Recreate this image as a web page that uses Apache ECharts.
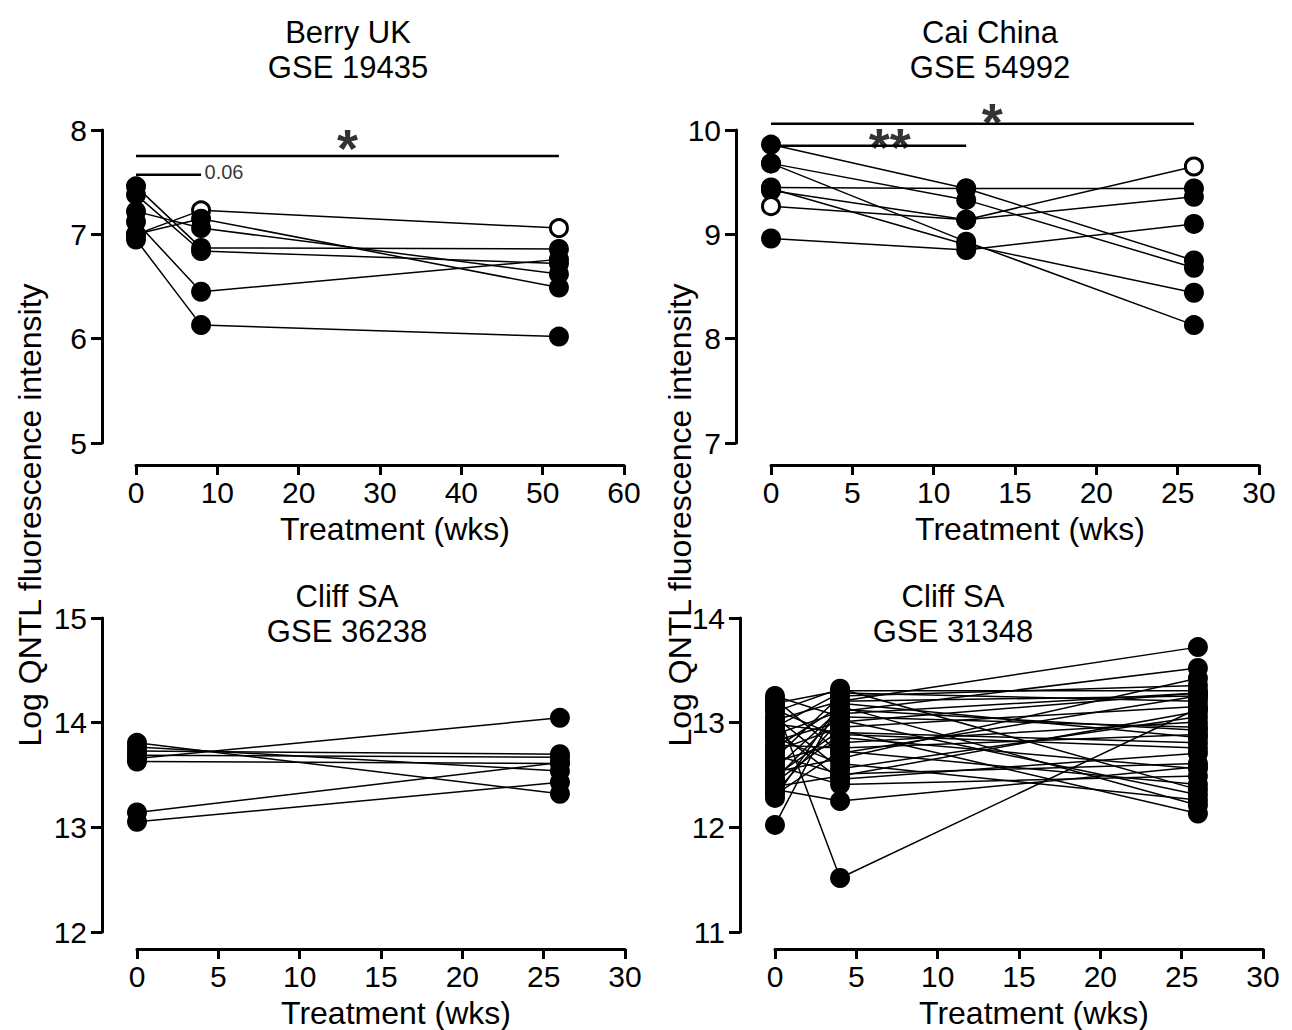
<!DOCTYPE html>
<html><head><meta charset="utf-8">
<script src="https://cdn.jsdelivr.net/npm/echarts@6/dist/echarts.min.js"></script>
<style>html,body{margin:0;padding:0;background:#fff}#c{width:1292px;height:1030px}</style>
</head><body><div id="c"></div>
<script>
// ---------------- data ----------------
const panelTitles = ['Berry UK\nGSE 19435', 'Cai China\nGSE 54992', 'Cliff SA\nGSE 36238', 'Cliff SA\nGSE 31348'];
const xAxisName = 'Treatment (wks)';
const yAxisName = 'Log QNTL fluorescence intensity';

// x ranges: [min, max, interval]
const xRanges = [[0, 60, 10], [0, 30, 5], [0, 30, 5], [0, 30, 5]];
const yRanges = [[5, 8, 1], [7, 10, 1], [12, 15, 1], [11, 14, 1]];

// Berry UK GSE 19435
const berryWeeks = [0, 8, 52];
const berrySubjects = [
  [7.00, 7.23, 7.06],
  [7.00, 7.15, 6.49],
  [7.22, 7.06, 6.62],
  [7.46, 6.87, 6.86],
  [7.38, 6.84, 6.72],
  [7.12, 6.45, 6.76],
  [6.95, 6.13, 6.02]
];
const berryHollow = [[8, 7.23], [52, 7.06]];
const berryBars = [[0, 52, 7.75], [0, 8, 7.57]];
const berryMarks = [['*', 26, 7.75], ['0.06', 8, 7.57]];

// Cai China GSE 54992
const caiWeeks = [0, 12, 26];
const caiSubjects = [
  [9.86, 9.44, 8.75],
  [9.68, 9.33, 8.68],
  [9.68, 8.93, 8.13],
  [9.45, 9.44, 9.44],
  [9.42, 9.14, 9.36],
  [9.27, 9.14, 9.65],
  [8.96, 8.85, 9.10],
  [9.44, 8.90, 8.44]
];
const caiHollow = [[0, 9.27], [26, 9.65]];
const caiBars = [[0, 12, 9.85], [0, 26, 10.06]];
const caiMarks = [['**', 7.3, 9.85], ['*', 13.6, 10.06]];

// Cliff SA GSE 36238
const cliffAWeeks = [0, 26];
const cliffASubjects = [
  [13.04, 13.42],
  [13.13, 13.61],
  [13.80, 13.31],
  [13.65, 14.04],
  [13.72, 13.69],
  [13.68, 13.66],
  [13.62, 13.60],
  [13.76, 13.53]
];

// Cliff SA GSE 31348
const cliffBWeeks = [0, 4, 26];
const cliffBSubjects = [
  [13.25, 13.05, 12.95],
  [13.22, 12.70, 13.25],
  [13.18, 13.30, 13.30],
  [13.16, 11.50, 13.13],
  [13.12, 12.85, 12.55],
  [13.10, 13.32, 12.35],
  [13.05, 12.55, 13.05],
  [13.02, 13.20, 13.72],
  [12.98, 12.90, 12.80],
  [12.95, 13.28, 13.20],
  [12.92, 12.45, 12.70],
  [12.88, 13.10, 13.52],
  [12.85, 12.60, 12.25],
  [12.82, 13.00, 13.28],
  [12.78, 12.75, 12.88],
  [12.75, 13.15, 12.20],
  [12.72, 12.95, 13.15],
  [12.68, 12.50, 12.60],
  [12.65, 13.25, 13.35],
  [12.62, 12.80, 13.00],
  [12.58, 12.40, 12.48],
  [12.55, 13.12, 12.92],
  [12.52, 12.65, 13.42],
  [12.48, 12.92, 12.12],
  [12.45, 13.08, 13.28],
  [12.42, 12.88, 12.75],
  [12.38, 12.48, 13.10],
  [12.35, 12.24, 12.57],
  [12.32, 13.02, 12.30],
  [12.30, 12.72, 12.40],
  [12.27, 13.18, 12.85],
  [12.01, 13.20, 13.25]
];

// ---------------- layout / style ----------------
const FONT = '"Liberation Sans", Arial, sans-serif';
const grids = [
  {left: 136, top: 130, width: 488, height: 313},
  {left: 771, top: 130, width: 488, height: 313},
  {left: 137, top: 618, width: 488, height: 314},
  {left: 775, top: 618, width: 488, height: 314}
];
const xOffsets = [22, 22, 19, 19];
const yAxisX = [102, 736, 102, 740];
const titlePos = [[348, 50], [990, 50], [347, 614], [953, 614]];
const markOffsets = [[[0, -8], [0, -3]], [[0, 1], [0, -2]]];

const panels = [
  {weeks: berryWeeks, subjects: berrySubjects, hollow: berryHollow, bars: berryBars, marks: berryMarks},
  {weeks: caiWeeks, subjects: caiSubjects, hollow: caiHollow, bars: caiBars, marks: caiMarks},
  {weeks: cliffAWeeks, subjects: cliffASubjects, hollow: [], bars: [], marks: []},
  {weeks: cliffBWeeks, subjects: cliffBSubjects, hollow: [], bars: [], marks: []}
];

const allGrids = grids.map(g => Object.assign({show: false}, g));
const xAxes = [], yAxes = [], series = [];
panels.forEach((p, i) => {
  xAxes.push({
    gridIndex: i, type: 'value', min: xRanges[i][0], max: xRanges[i][1], interval: xRanges[i][2],
    offset: xOffsets[i],
    axisLine: {show: true, onZero: false, lineStyle: {color: '#000', width: 3}},
    axisTick: {show: true, length: 10, lineStyle: {color: '#000', width: 3}},
    splitLine: {show: false},
    axisLabel: {color: '#000', fontSize: 30, fontFamily: FONT, margin: 12},
    name: xAxisName, nameLocation: 'middle', nameGap: 48,
    nameTextStyle: {color: '#000', fontSize: 32, fontFamily: FONT, padding: [0, 0, 0, 30]}
  });
  // hidden value axis used by the data
  yAxes.push({
    gridIndex: i, type: 'value', min: yRanges[i][0], max: yRanges[i][1], interval: yRanges[i][2],
    show: false,
    axisLine: {show: false}, axisTick: {show: false}, axisLabel: {show: false},
    splitLine: {show: false}, splitArea: {show: false}
  });
  const isHollow = (w, v) => p.hollow.some(h => h[0] === w && h[1] === v);
  p.subjects.forEach(s => {
    series.push({
      type: 'line', xAxisIndex: i, yAxisIndex: i, silent: true, animation: false,
      symbol: 'circle', symbolSize: 20, showAllSymbol: true,
      itemStyle: {color: '#000'},
      lineStyle: {color: '#000', width: 1.5},
      data: p.weeks.map((w, j) => isHollow(w, s[j])
        ? {value: [w, s[j]], symbolSize: 17, itemStyle: {color: '#fff', borderColor: '#000', borderWidth: 3}}
        : {value: [w, s[j]]})
    });
  });
  p.bars.forEach(b => {
    series.push({
      type: 'line', xAxisIndex: i, yAxisIndex: i, silent: true, animation: false, clip: false,
      symbol: 'none', lineStyle: {color: '#000', width: 2.5}, z: 5,
      data: [[b[0], b[2]], [b[1], b[2]]]
    });
  });
  if (p.marks.length) {
    series.push({
      type: 'scatter', xAxisIndex: i, yAxisIndex: i, silent: true, animation: false, clip: false,
      symbolSize: 1, itemStyle: {color: 'rgba(0,0,0,0)'}, z: 6,
      data: p.marks.map((m, k) => {
        const star = m[0].indexOf('*') >= 0;
        return {
          value: [m[1], m[2]],
          label: star
            ? {show: true, formatter: m[0], position: 'inside', color: '#000', textBorderWidth: 0, fontSize: 54, fontWeight: 'bold', fontFamily: FONT, offset: markOffsets[i][k]}
            : {show: true, formatter: m[0], position: 'right', distance: 3, color: '#000', textBorderWidth: 0, fontSize: 20, fontFamily: FONT, offset: markOffsets[i][k]}
        };
      })
    });
  }
});

// visible, detached y axes (each in a thin grid left of its plot)
grids.forEach((g, i) => {
  const gi = allGrids.length;
  allGrids.push({show: false, left: yAxisX[i], top: g.top, width: 2, height: g.height});
  xAxes.push({gridIndex: gi, type: 'value', show: false, min: 0, max: 1,
    axisLine: {show: false}, axisTick: {show: false}, axisLabel: {show: false}, splitLine: {show: false}});
  yAxes.push({
    gridIndex: gi, type: 'value', position: 'left',
    min: yRanges[i][0], max: yRanges[i][1], interval: yRanges[i][2],
    axisLine: {show: true, onZero: false, lineStyle: {color: '#000', width: 3}},
    axisTick: {show: true, length: 11, lineStyle: {color: '#000', width: 3}},
    splitLine: {show: false},
    axisLabel: {color: '#000', fontSize: 30, fontFamily: FONT, margin: 15}
  });
});

const graphic = [];
panelTitles.forEach((t, i) => {
  graphic.push({type: 'text', x: titlePos[i][0], y: titlePos[i][1], silent: true,
    style: {text: t, fill: '#000', font: '31px ' + FONT, lineHeight: 35, align: 'center', verticalAlign: 'middle'}});
});
[[30, 515], [680, 515]].forEach(pos => {
  graphic.push({type: 'text', x: pos[0], y: pos[1], rotation: Math.PI / 2, silent: true,
    style: {text: yAxisName, fill: '#000', font: '32px ' + FONT, align: 'center', verticalAlign: 'middle'}});
});

const chart = echarts.init(document.getElementById('c'), null, {renderer: 'svg', width: 1292, height: 1030});
chart.setOption({
  backgroundColor: '#fff',
  animation: false,
  grid: allGrids,
  xAxis: xAxes,
  yAxis: yAxes,
  series: series,
  graphic: graphic
});
</script></body></html>
